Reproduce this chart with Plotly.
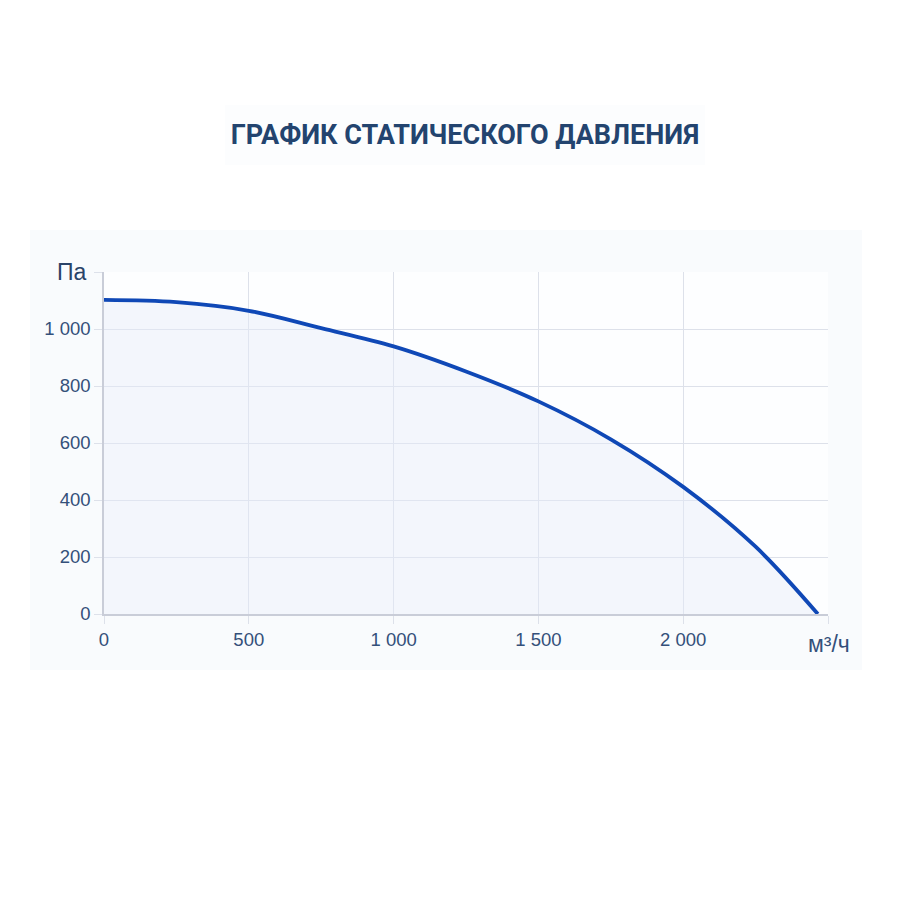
import plotly.graph_objects as go

# Data
flow = [0, 250, 500, 750, 1000, 1250, 1500, 1750, 2000, 2250, 2465]
pressure = [1102, 1094, 1064, 1003, 939, 851, 746, 613, 446, 236, 0]

x_tickvals = [0, 500, 1000, 1500, 2000, 2500]
x_ticktext = ["0", "500", "1 000", "1 500", "2 000", ""]
y_tickvals = [0, 200, 400, 600, 800, 1000, 1200]
y_ticktext = ["0", "200", "400", "600", "800", "1 000", ""]

title_text = "ГРАФИК СТАТИЧЕСКОГО ДАВЛЕНИЯ"
y_unit = "Па"
x_unit = "м³/ч"

W, H = 900, 900
OFF = 8  # page body margin
L, T = 104 - OFF, 272 - OFF
pw, ph = 724, 342
R, B = W - L - pw, H - T - ph


def px(v):
    return (v - OFF - L) / pw


def py(v):
    return (T + ph - (v - OFF)) / ph


tick_font = dict(family="Liberation Sans, Arial, sans-serif", size=18.5, color="#34507a")

fig = go.Figure()
fig.add_trace(go.Scatter(
    x=flow, y=pressure, mode="lines",
    line=dict(color="#0f48b6", width=3.8, shape="spline", smoothing=1.0),
    fill="tozeroy", fillcolor="rgba(228,236,247,0.42)",
    hoverinfo="skip", showlegend=False,
))

fig.update_layout(
    width=W, height=H,
    margin=dict(l=L, r=R, t=T, b=B),
    paper_bgcolor="#ffffff",
    plot_bgcolor="rgba(0,0,0,0)",
    showlegend=False,
    title=dict(text=title_text, x=(465 - OFF) / W, xanchor="center",
               y=1 - (135 - OFF) / H, yanchor="middle",
               font=dict(family="Roboto, sans-serif", size=27, color="#23446f", weight="bold")),
    xaxis=dict(range=[0, 2500], tickvals=x_tickvals, ticktext=x_ticktext,
               showgrid=True, gridcolor="#dde1ea", gridwidth=1,
               ticks="outside", ticklen=8, tickcolor="#dde1ea",
               showline=True, linecolor="#c9cdd8", linewidth=1.5, zeroline=False,
               tickfont=tick_font, fixedrange=True),
    yaxis=dict(range=[0, 1200], tickvals=y_tickvals, ticktext=y_ticktext,
               showgrid=True, gridcolor="#dde1ea", gridwidth=1,
               ticks="outside", ticklen=8, tickcolor="#dde1ea",
               showline=True, linecolor="#c9cdd8", linewidth=1.5, zeroline=False,
               tickfont=tick_font, fixedrange=True),
    shapes=[
        dict(type="rect", xref="paper", yref="paper", layer="below",
             x0=px(30), x1=px(862), y0=py(670), y1=py(230),
             fillcolor="#f9fbfd", line=dict(width=0)),
        dict(type="rect", xref="paper", yref="paper", layer="below",
             x0=px(225), x1=px(705), y0=py(165), y1=py(105),
             fillcolor="#fcfdfe", line=dict(width=0)),
        dict(type="rect", xref="paper", yref="paper", layer="below",
             x0=0, x1=1, y0=0, y1=1,
             fillcolor="#fdfeff", line=dict(width=0)),
    ],
    annotations=[
        dict(text=y_unit, xref="paper", yref="paper", x=px(89), y=py(272),
             xanchor="right", yanchor="middle", showarrow=False,
             font=dict(family="Liberation Sans, Arial, sans-serif", size=23, color="#2a4368")),
        dict(text=x_unit, xref="paper", yref="paper", x=px(829), y=py(644),
             xanchor="center", yanchor="middle", showarrow=False,
             font=dict(family="Liberation Sans, Arial, sans-serif", size=23, color="#34507a")),
    ],
)

fig.write_html("out.html")
